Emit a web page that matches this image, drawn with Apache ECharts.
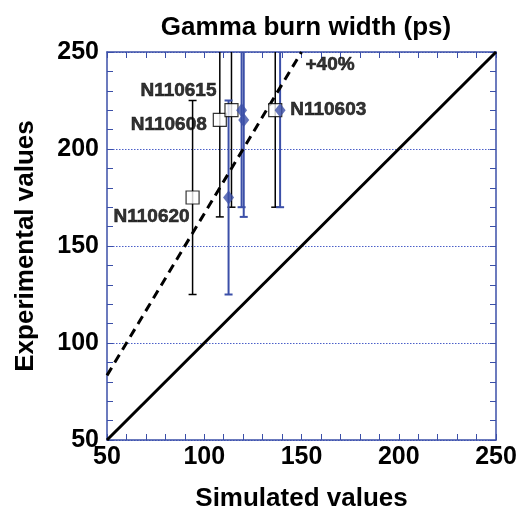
<!DOCTYPE html>
<html>
<head>
<meta charset="utf-8">
<script src="https://cdn.jsdelivr.net/npm/echarts@6/dist/echarts.min.js"></script>
<style>
  html, body { margin: 0; padding: 0; background: #fff; }
  #chart { width: 516px; height: 507px; }
</style>
</head>
<body>
<div id="chart"></div>
<script>
// Shots and their gamma burn widths (ps)
const shots = ['N110620', 'N110608', 'N110615', 'N110603'];
const experimental = [175, 215, 220, 220];
const expLow = [125, 165, 170, 170];
const expHigh = [225, 265, 270, 270];
const simulatedA = [94, 108, 114, 136.5];      // open squares
const simulatedB = [112.5, 120.3, 119.2, 139]; // filled diamonds

// Reference lines: y = x and the +40% line
const identityLine = [[50, 50], [250, 250]];
const plus40Line = [[50, 83.3], [150, 250]];
const axisTicks = { min: 50, max: 250, interval: 50 };

const BLUE = '#3b4fa8';
const FONT = '"Liberation Sans", Arial, sans-serif';

// label placement for each shot name
const labelLayout = [
  { align: 'right', offset: [-3, 19] },
  { align: 'right', offset: [-13, 5] },
  { align: 'right', offset: [-15, -19] },
  { align: 'left', offset: [15, 0] }
];

function errorBar(color, width) {
  return function (params, api) {
    const x = api.value(0), lo = api.value(1), hi = api.value(2);
    const p1 = api.coord([x, lo]);
    const p2 = api.coord([x, hi]);
    const c = 4;
    const st = { stroke: color, lineWidth: width };
    return {
      type: 'group',
      children: [
        { type: 'line', shape: { x1: p1[0], y1: p1[1], x2: p2[0], y2: p2[1] }, style: st },
        { type: 'line', shape: { x1: p1[0] - c, y1: p1[1], x2: p1[0] + c, y2: p1[1] }, style: st },
        { type: 'line', shape: { x1: p2[0] - c, y1: p2[1], x2: p2[0] + c, y2: p2[1] }, style: st }
      ]
    };
  };
}

const barsA = shots.map((s, i) => [simulatedA[i], expLow[i], expHigh[i]]);
const barsB = shots.map((s, i) => [simulatedB[i], expLow[i], expHigh[i]]);

// heavy black annotation text
const textStyle = {
  color: '#000', textBorderColor: '#000', textBorderWidth: 0.6,
  fontFamily: FONT, fontWeight: 'bold', fontSize: 19
};

const squares = shots.map((s, i) => ({
  value: [simulatedA[i], experimental[i]],
  name: s,
  label: Object.assign({
    show: true,
    position: ['50%', '50%'],
    formatter: s,
    align: labelLayout[i].align,
    verticalAlign: 'middle',
    offset: labelLayout[i].offset
  }, textStyle)
}));
const diamonds = shots.map((s, i) => [simulatedB[i], experimental[i]]);

function valueAxis(pos, labels, grid, margin) {
  return {
    type: 'value',
    position: pos,
    min: axisTicks.min,
    max: axisTicks.max,
    interval: axisTicks.interval,
    axisLine: { show: true, onZero: false, lineStyle: { color: BLUE, width: 1.5 } },
    axisTick: { show: true, inside: true, length: 6, lineStyle: { color: BLUE, width: 1 } },
    minorTick: { show: true, splitNumber: 5, length: 6, lineStyle: { color: BLUE, width: 1 } },
    axisLabel: labels ? {
      show: true, color: '#000', fontFamily: FONT, fontWeight: 'bold', fontSize: 25,
      margin: margin
    } : { show: false },
    splitLine: grid ? { show: true, lineStyle: { color: '#4a5fc8', type: [1.5, 1.5], width: 1 } } : { show: false }
  };
}

const xBottom = Object.assign(valueAxis('bottom', true, false, 5), {
  name: 'Simulated values', nameLocation: 'middle', nameGap: 46,
  nameTextStyle: { color: '#000', fontFamily: FONT, fontWeight: 'bold', fontSize: 26 }
});
const yLeft = Object.assign(valueAxis('left', true, true, 8), {
  name: 'Experimental values', nameLocation: 'middle', nameGap: 68,
  nameTextStyle: { color: '#000', fontFamily: FONT, fontWeight: 'bold', fontSize: 26 }
});

const chart = echarts.init(document.getElementById('chart'));
chart.setOption({
  animation: false,
  backgroundColor: '#fff',
  title: {
    text: 'Gamma burn width (ps)',
    left: 301, top: 10, textAlign: 'center',
    textStyle: { color: '#000', fontFamily: FONT, fontWeight: 'bold', fontSize: 26 }
  },
  grid: { left: 107, right: 20, top: 52, bottom: 67, outerBoundsMode: 'none', containLabel: false },
  xAxis: [xBottom, valueAxis('top', false, false, 0)],
  yAxis: [yLeft, valueAxis('right', false, false, 0)],
  series: [
    {
      type: 'line', data: identityLine, symbol: 'none', silent: true,
      lineStyle: { color: '#000', width: 3 }
    },
    {
      type: 'line', data: plus40Line, symbol: 'none', silent: true,
      lineStyle: { color: '#000', width: 3, type: [9, 6] }
    },
    {
      type: 'scatter', data: [plus40Line[1]], symbolSize: 0, silent: true,
      label: Object.assign({
        show: true, position: ['50%', '50%'], formatter: '+40%', align: 'left',
        verticalAlign: 'middle', offset: [4, 13]
      }, textStyle)
    },
    {
      type: 'custom', data: barsA, renderItem: errorBar('#000', 1.5), clip: true,
      encode: { x: 0, y: [1, 2] }, z: 3
    },
    {
      type: 'custom', data: barsB, renderItem: errorBar(BLUE, 2), clip: true,
      encode: { x: 0, y: [1, 2] }, z: 3
    },
    {
      type: 'scatter', data: squares, symbol: 'rect', symbolSize: 13, z: 4,
      itemStyle: { color: '#fff', borderColor: '#000', borderWidth: 1.2 }
    },
    {
      type: 'scatter', data: diamonds, symbol: 'diamond', symbolSize: [11, 14], z: 5,
      itemStyle: { color: BLUE }
    }
  ]
});
</script>
</body>
</html>
